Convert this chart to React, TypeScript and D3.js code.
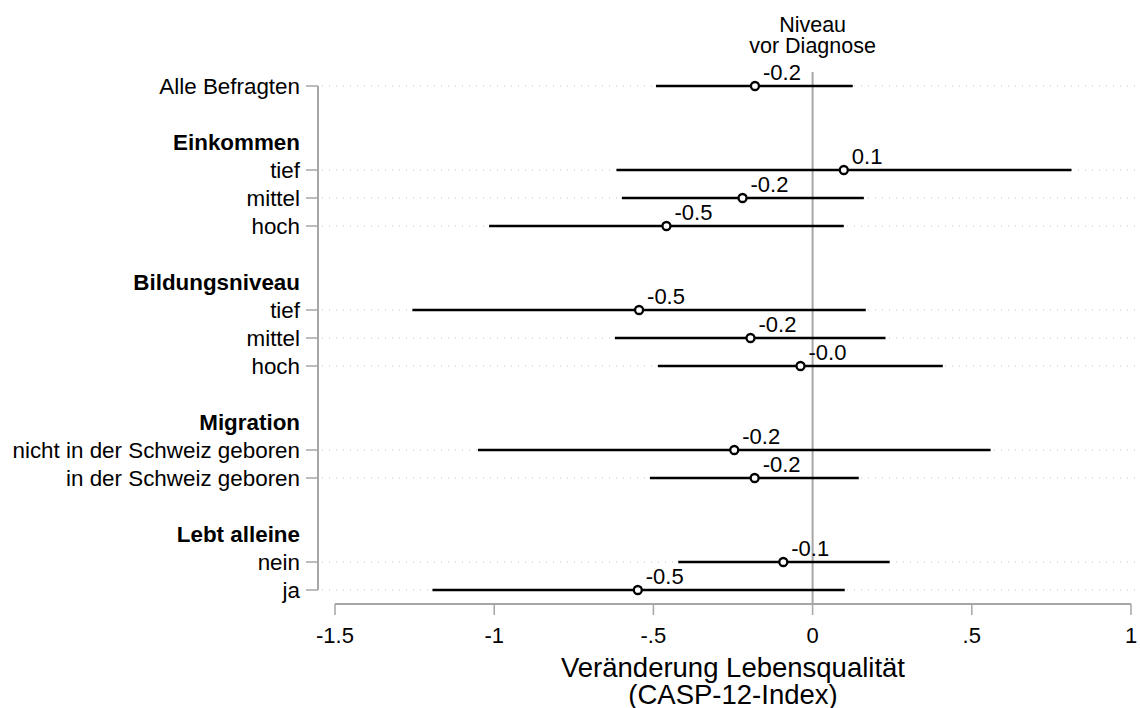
import React from "react";
import * as d3 from "d3";

// Row labels (top to bottom); headers have no estimate
const rowLabels = [
  "Alle Befragten", "", "Einkommen", "tief", "mittel", "hoch", "",
  "Bildungsniveau", "tief", "mittel", "hoch", "",
  "Migration", "nicht in der Schweiz geboren", "in der Schweiz geboren", "",
  "Lebt alleine", "nein", "ja",
];
const headerRows = [2, 7, 12, 16];
const dataRows = [0, 3, 4, 5, 8, 9, 10, 13, 14, 17, 18];
const estimates = [-0.181, 0.098, -0.22, -0.459, -0.545, -0.195, -0.038, -0.246, -0.182, -0.092, -0.549];
const lower = [-0.492, -0.616, -0.599, -1.016, -1.257, -0.621, -0.486, -1.051, -0.511, -0.422, -1.194];
const upper = [0.126, 0.813, 0.161, 0.098, 0.167, 0.229, 0.409, 0.559, 0.145, 0.242, 0.101];
const xTicks = [-1.5, -1, -0.5, 0, 0.5, 1];
const xTickLabels = ["-1.5", "-1", "-.5", "0", ".5", "1"];

const FONT = "'Liberation Sans', Arial, Helvetica, sans-serif";
const AXIS = "#a6a6a6";
const fmt = (v: number) => (v < 0 ? "-" : "") + Math.abs(v).toFixed(1);

export default function App() {
  const W = 1140, H = 708;
  const x = d3.scaleLinear().domain([-1.5, 1]).range([335, 1131]);
  const y = d3.scaleLinear().domain([0, 18]).range([86, 590]);
  const axisY = 604;
  const axisX = 318;

  return (
    <svg width={W} height={H} style={{ position: "absolute", left: 0, top: 0, background: "#fff" }} fontFamily={FONT}>
      {/* dotted gridlines */}
      {dataRows.map((r) => (
        <line key={"g" + r} x1={axisX + 4} x2={W} y1={y(r)} y2={y(r)} stroke="#c4c4c4" strokeWidth={1} strokeDasharray="1,6" />
      ))}
      {/* left axis */}
      <line x1={axisX} x2={axisX} y1={y(0)} y2={y(18)} stroke={AXIS} strokeWidth={2} />
      {dataRows.map((r) => (
        <line key={"t" + r} x1={axisX - 12} x2={axisX} y1={y(r)} y2={y(r)} stroke={AXIS} strokeWidth={1.5} />
      ))}
      {rowLabels.map((lab, i) =>
        lab ? (
          <text key={"l" + i} x={300} y={y(i)} dy="0.35em" textAnchor="end" fontSize={22.4}
            fontWeight={headerRows.includes(i) ? "bold" : "normal"} fill="#000">
            {lab}
          </text>
        ) : null
      )}
      {/* bottom axis */}
      <line x1={x(-1.5)} x2={x(1)} y1={axisY} y2={axisY} stroke={AXIS} strokeWidth={2} />
      {xTicks.map((t, i) => (
        <g key={"x" + i}>
          <line x1={x(t)} x2={x(t)} y1={axisY} y2={axisY + 11} stroke={AXIS} strokeWidth={1.5} />
          <text x={x(t)} y={635} dy="0.35em" textAnchor="middle" fontSize={22} fill="#000">{xTickLabels[i]}</text>
        </g>
      ))}
      <text x={(x(-1.5) + x(1)) / 2} y={677} textAnchor="middle" fontSize={27.5} fill="#000">Veränderung Lebensqualität</text>
      <text x={(x(-1.5) + x(1)) / 2} y={704} textAnchor="middle" fontSize={27.5} fill="#000">(CASP-12-Index)</text>
      {/* reference line */}
      <line x1={x(0)} x2={x(0)} y1={72} y2={axisY} stroke={AXIS} strokeWidth={2} />
      <text x={x(0)} y={32} textAnchor="middle" fontSize={21.5} fill="#000">Niveau</text>
      <text x={x(0)} y={53} textAnchor="middle" fontSize={21.5} fill="#000">vor Diagnose</text>
      {/* CIs and points */}
      {dataRows.map((r, i) => (
        <g key={"d" + r}>
          <line x1={x(lower[i])} x2={x(upper[i])} y1={y(r)} y2={y(r)} stroke="#000" strokeWidth={2.5} />
          <circle cx={x(estimates[i])} cy={y(r)} r={4} fill="#fff" stroke="#000" strokeWidth={2.3} />
          <text x={x(estimates[i]) + 8} y={y(r) - 6} fontSize={22} fill="#000">{fmt(estimates[i])}</text>
        </g>
      ))}
    </svg>
  );
}
